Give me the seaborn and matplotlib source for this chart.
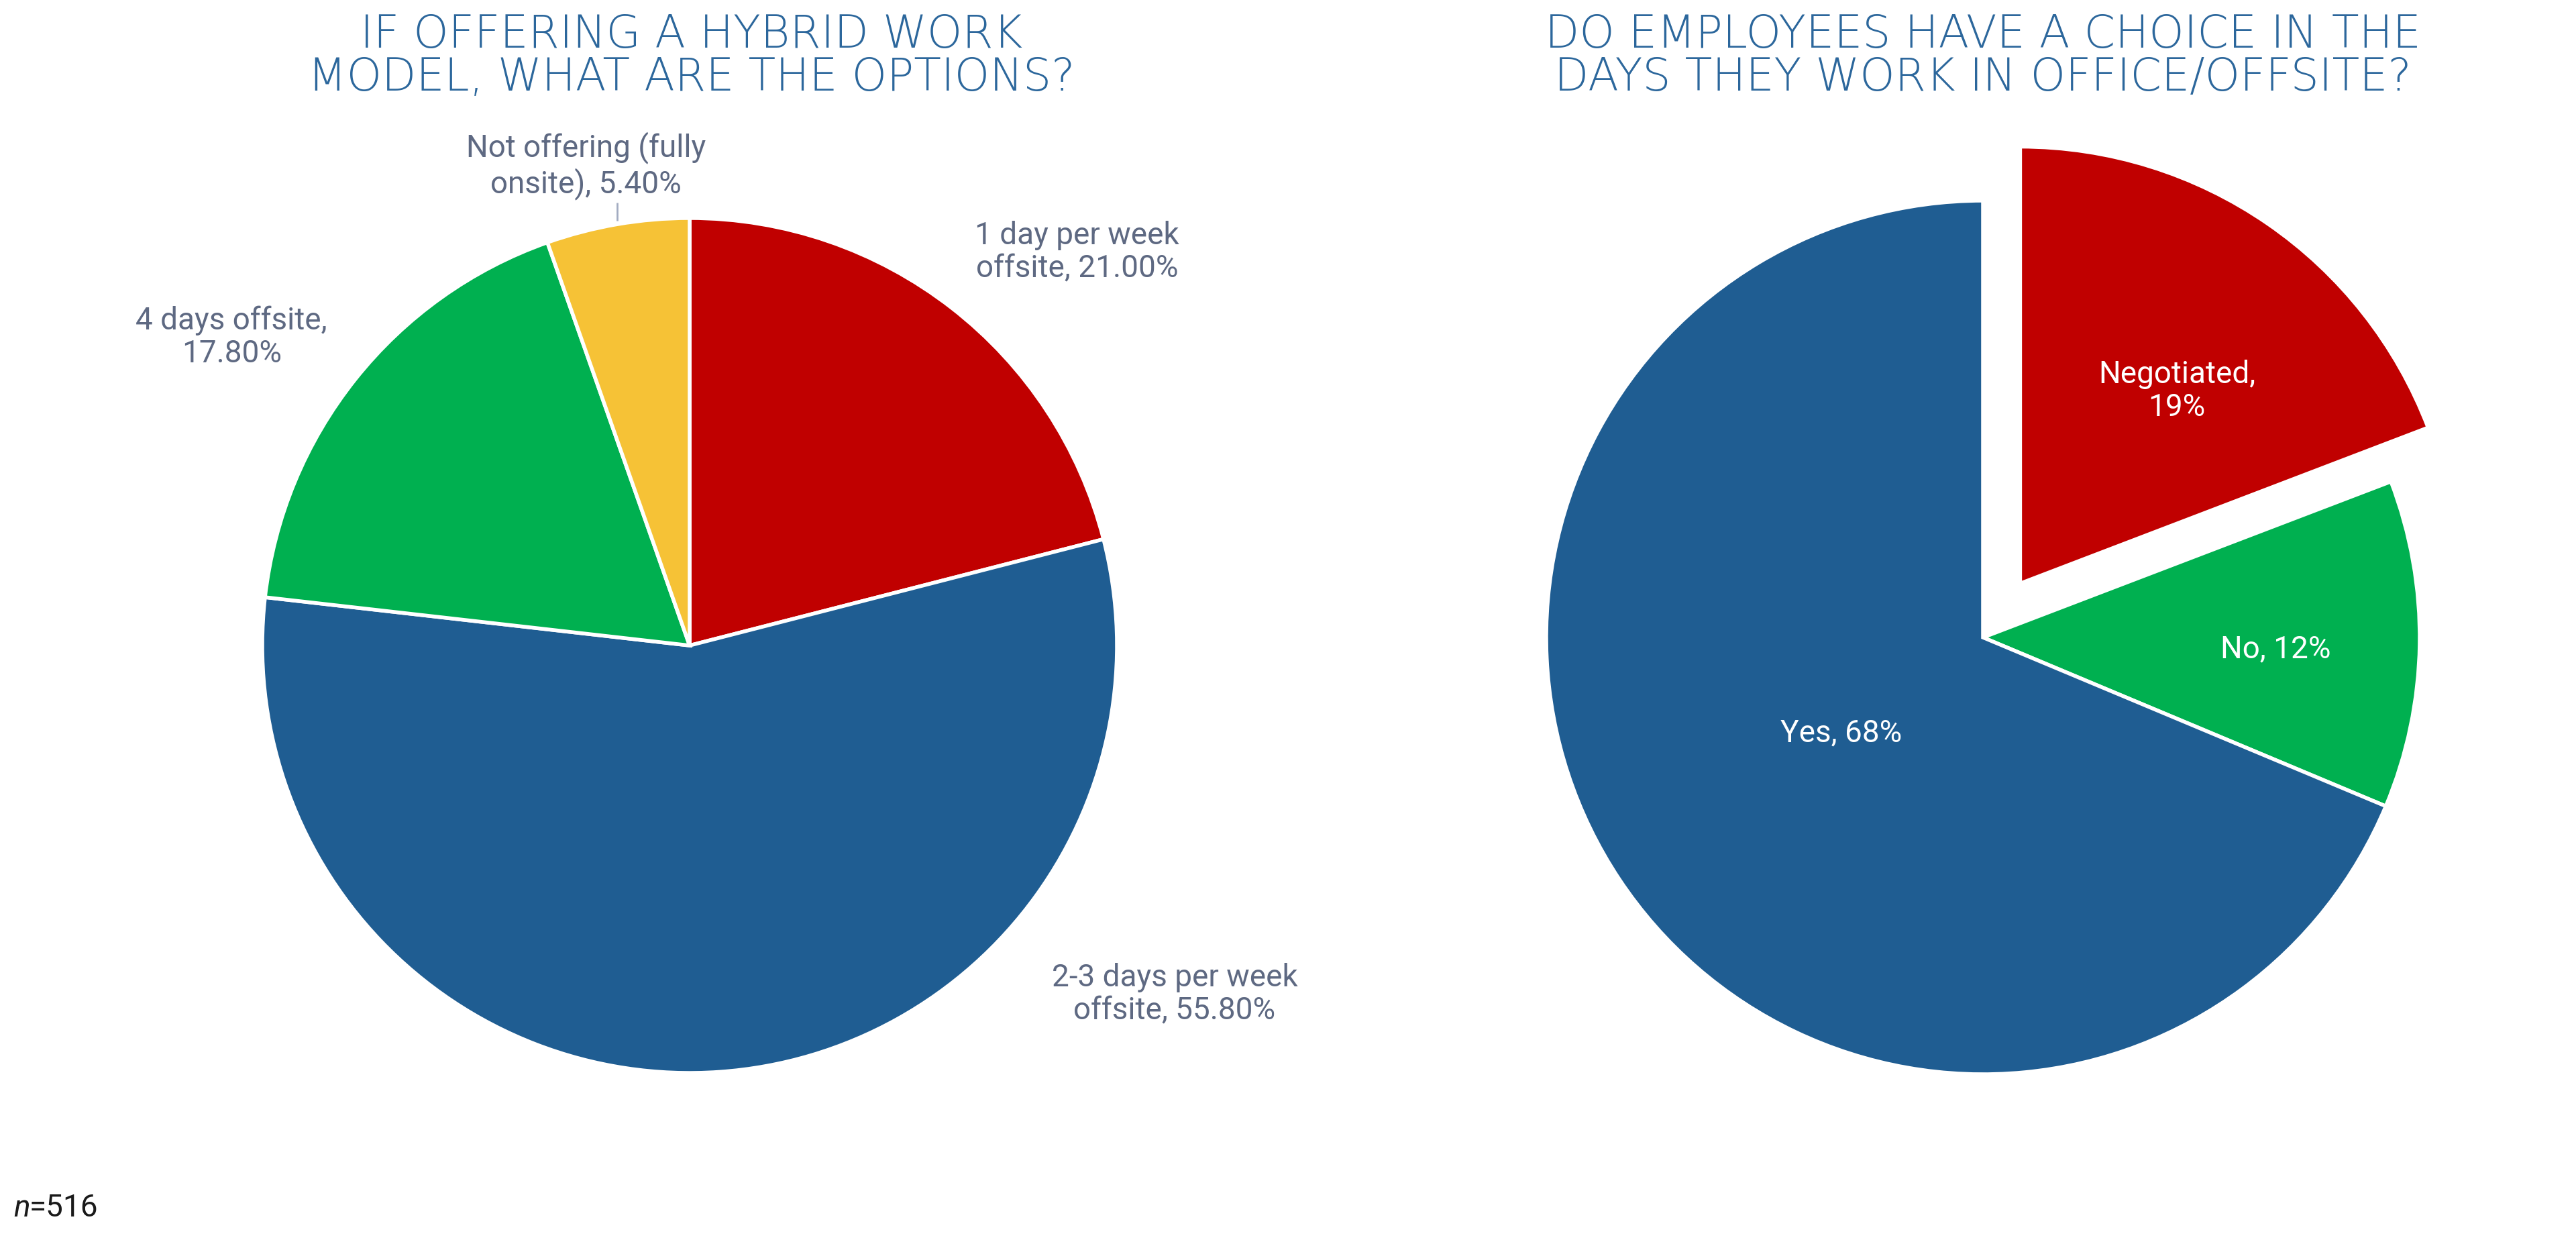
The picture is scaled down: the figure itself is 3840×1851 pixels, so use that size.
import matplotlib
matplotlib.use("Agg")
import matplotlib.pyplot as plt
import seaborn as sns
import numpy as np

# ---- data ----
left_title = "IF OFFERING A HYBRID WORK\nMODEL, WHAT ARE THE OPTIONS?"
left_labels = ["1 day per week\noffsite, 21.00%", "2-3 days per week\noffsite, 55.80%",
               "4 days offsite,\n17.80%", "Not offering (fully\nonsite), 5.40%"]
left_values = [21.0, 55.8, 17.8, 5.4]
left_colors = ["#C00000", "#1F5D92", "#00B050", "#F6C236"]

right_title = "DO EMPLOYEES HAVE A CHOICE IN THE\nDAYS THEY WORK IN OFFICE/OFFSITE?"
right_labels = ["Negotiated,\n19%", "No, 12%", "Yes, 68%"]
right_values = [19, 12, 68]
right_colors = ["#C00000", "#00B050", "#1F5D92"]
right_explode = [0.15, 0, 0]

note = "=516"

# ---- style ----
sns.set_theme(style="white")
plt.rcParams["font.family"] = ["Roboto", "DejaVu Sans"]

W, H = 3840, 1851
fig = plt.figure(figsize=(W / 100, H / 100), dpi=100)
fig.patch.set_facecolor("white")

label_color = "#5E6982"
title_color = "#2C679C"
EDGE = dict(edgecolor="white", linewidth=4)


def make_ax(cx, cy, r, lim=1.3):
    size = 2 * lim * r
    ax = fig.add_axes([(cx - size / 2) / W, (H - cy - size / 2) / H, size / W, size / H])
    return ax


def fix_ax(ax, lim=1.3):
    ax.set_xlim(-lim, lim)
    ax.set_ylim(-lim, lim)
    ax.set_aspect("equal")
    ax.axis("off")


# left pie
axL = make_ax(1028, 962, 637)
wedgesL, _ = axL.pie(left_values, colors=left_colors, startangle=90, counterclock=False,
                     wedgeprops=EDGE, radius=1.0)
fix_ax(axL)
left_pos = [(0.907, 0.92), (1.135, -0.816), (-1.072, 0.722), (-0.242, 1.122)]
for lab, (x, y) in zip(left_labels, left_pos):
    axL.text(x, y, lab, ha="center", va="center", fontsize=33, color=label_color,
             fontweight="normal", linespacing=1.15)
# leader line for the small slice
w = wedgesL[3]
mid = np.deg2rad((w.theta1 + w.theta2) / 2)
lx, ly = np.cos(mid), np.sin(mid)
axL.plot([lx, lx], [ly + 0.008, ly + 0.05], color="#A3ACC2", lw=2, solid_capstyle="butt")

# right pie
axR = make_ax(2956, 950, 651)
wedgesR, _ = axR.pie(right_values, colors=right_colors, startangle=90, counterclock=False,
                     explode=right_explode, wedgeprops=EDGE, radius=1.0)
fix_ax(axR)
right_pos = [(0.444, 0.564), (0.670, -0.026), (-0.324, -0.218)]
for lab, (x, y) in zip(right_labels, right_pos):
    axR.text(x, y, lab, ha="center", va="center", fontsize=33, color="white",
             fontweight="normal", linespacing=1.15)

# titles
title_kw = dict(ha="center", va="center", fontsize=48, color=title_color,
                family=["DejaVu Sans"], fontweight="light", linespacing=0.98)
fig.text(1031 / W, 1 - 84 / H, left_title, **title_kw)
fig.text(2956 / W, 1 - 84 / H, right_title, **title_kw)

# note
fig.text(20 / W, 1 - 1800 / H, "n", ha="left", va="center", fontsize=33, style="italic",
         color="#1A1A1A", fontweight="normal")
fig.text(44 / W, 1 - 1800 / H, note, ha="left", va="center", fontsize=33,
         color="#1A1A1A", fontweight="normal")

fig.savefig("out.png", dpi=100, facecolor="white")
